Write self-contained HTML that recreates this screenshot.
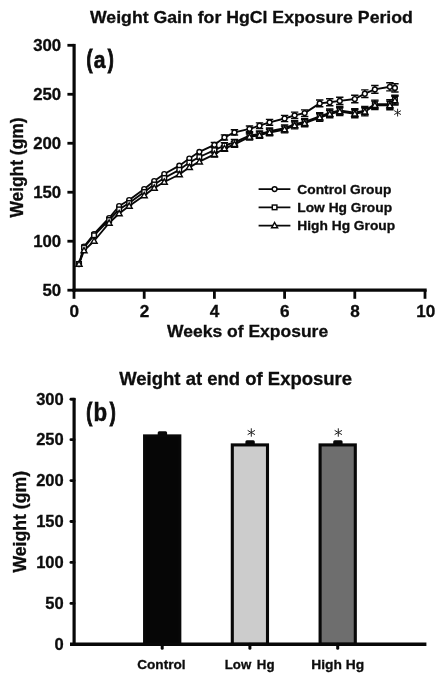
<!DOCTYPE html>
<html><head><meta charset="utf-8"><title>Weight Gain</title>
<style>
html,body{margin:0;padding:0;background:#fff;}
body{width:445px;height:683px;overflow:hidden;font-family:"Liberation Sans",sans-serif;}
svg{display:block;filter:blur(0.35px);}
text{font-family:"Liberation Sans",sans-serif;font-weight:bold;fill:#0d0d0d;stroke:#0d0d0d;stroke-width:0.3;}
.ax{stroke:#080808;stroke-width:3.2;fill:none;stroke-linecap:butt;}
.tk{stroke:#080808;stroke-width:2.8;fill:none;}
.ln{stroke:#080808;stroke-width:1.9;fill:none;stroke-linejoin:round;}
.eb{stroke:#080808;stroke-width:1.4;fill:none;}
.mk{stroke:#080808;stroke-width:1.45;fill:#fff;}
</style></head><body>
<svg width="445" height="683" viewBox="0 0 445 683">
<rect width="445" height="683" fill="#fff"/>

<text transform="translate(90,22.5) scale(1.06,1)" font-size="16.7" text-anchor="start">Weight Gain for HgCl Exposure Period</text>
<text transform="translate(22.5,217.6) rotate(-90) scale(1,1.09)" font-size="17.4" text-anchor="start">Weight (gm)</text>
<text transform="translate(167,337) scale(1.03,1)" font-size="17" text-anchor="start">Weeks of Exposure</text>
<text transform="translate(86.5,67.8) scale(0.78,1.13)" font-size="23" style="stroke-width:1">(</text>
<text transform="translate(93.8,68.1) scale(0.92,1.06)" font-size="23" style="stroke-width:0.6">a</text>
<text transform="translate(107.7,67.8) scale(0.78,1.13)" font-size="23" style="stroke-width:1">)</text>
<path class="ax" d="M74.1,43.9 V291.8"/>
<path class="ax" d="M72.5,290.2 H426.7"/>
<path class="tk" d="M67.4,290.2 H74"/>
<text transform="translate(61.2,295.7) scale(1.05,1)" font-size="16" text-anchor="end">50</text>
<path class="tk" d="M67.4,241.22 H74"/>
<text transform="translate(61.2,246.72) scale(1.05,1)" font-size="16" text-anchor="end">100</text>
<path class="tk" d="M67.4,192.24 H74"/>
<text transform="translate(61.2,197.74) scale(1.05,1)" font-size="16" text-anchor="end">150</text>
<path class="tk" d="M67.4,143.26 H74"/>
<text transform="translate(61.2,148.76) scale(1.05,1)" font-size="16" text-anchor="end">200</text>
<path class="tk" d="M67.4,94.28 H74"/>
<text transform="translate(61.2,99.78) scale(1.05,1)" font-size="16" text-anchor="end">250</text>
<path class="tk" d="M67.4,45.3 H74"/>
<text transform="translate(61.2,50.8) scale(1.05,1)" font-size="16" text-anchor="end">300</text>
<path class="tk" d="M74,290 V298.8"/>
<text transform="translate(74.2,317.2) scale(1.06,1)" font-size="16.2" text-anchor="middle">0</text>
<path class="tk" d="M144.2,290 V298.8"/>
<text transform="translate(144.4,317.2) scale(1.06,1)" font-size="16.2" text-anchor="middle">2</text>
<path class="tk" d="M214.4,290 V298.8"/>
<text transform="translate(214.6,317.2) scale(1.06,1)" font-size="16.2" text-anchor="middle">4</text>
<path class="tk" d="M284.6,290 V298.8"/>
<text transform="translate(284.8,317.2) scale(1.06,1)" font-size="16.2" text-anchor="middle">6</text>
<path class="tk" d="M354.8,290 V298.8"/>
<text transform="translate(355,317.2) scale(1.06,1)" font-size="16.2" text-anchor="middle">8</text>
<path class="tk" d="M425,290 V298.8"/>
<text transform="translate(425.8,317.2) scale(1.06,1)" font-size="16.2" text-anchor="middle">10</text>
<path class="eb" d="M214.4,151.54 V157.06 M210.7,151.54 H218.1 M210.7,157.06 H218.1"/>
<path class="eb" d="M224.43,145.65 V151.35 M220.73,145.65 H228.13 M220.73,151.35 H228.13"/>
<path class="eb" d="M234.46,141.36 V147.24 M230.76,141.36 H238.16 M230.76,147.24 H238.16"/>
<path class="eb" d="M249.5,133.83 V139.97 M245.8,133.83 H253.2 M245.8,139.97 H253.2"/>
<path class="eb" d="M259.53,132.03 V138.36 M255.83,132.03 H263.23 M255.83,138.36 H263.23"/>
<path class="eb" d="M269.56,129.25 V135.75 M265.86,129.25 H273.26 M265.86,135.75 H273.26"/>
<path class="eb" d="M284.6,126.11 V132.89 M280.9,126.11 H288.3 M280.9,132.89 H288.3"/>
<path class="eb" d="M294.63,121.92 V128.88 M290.93,121.92 H298.33 M290.93,128.88 H298.33"/>
<path class="eb" d="M304.66,119.63 V126.77 M300.96,119.63 H308.36 M300.96,126.77 H308.36"/>
<path class="eb" d="M319.7,113.8 V121.2 M316,113.8 H323.4 M316,121.2 H323.4"/>
<path class="eb" d="M329.73,110.2 V117.8 M326.03,110.2 H333.43 M326.03,117.8 H333.43"/>
<path class="eb" d="M339.76,107.71 V115.48 M336.06,107.71 H343.46 M336.06,115.48 H343.46"/>
<path class="eb" d="M354.8,109.78 V117.82 M351.1,109.78 H358.5 M351.1,117.82 H358.5"/>
<path class="eb" d="M364.83,107.69 V115.91 M361.13,107.69 H368.53 M361.13,115.91 H368.53"/>
<path class="eb" d="M374.86,101.1 V109.5 M371.16,101.1 H378.56 M371.16,109.5 H378.56"/>
<path class="eb" d="M389.9,101.07 V109.73 M386.2,101.07 H393.6 M386.2,109.73 H393.6"/>
<path class="eb" d="M394.91,96.22 V104.98 M391.21,96.22 H398.61 M391.21,104.98 H398.61"/>
<path class="eb" d="M214.4,147.44 V152.96 M210.7,147.44 H218.1 M210.7,152.96 H218.1"/>
<path class="eb" d="M224.43,142.65 V148.35 M220.73,142.65 H228.13 M220.73,148.35 H228.13"/>
<path class="eb" d="M234.46,139.36 V145.24 M230.76,139.36 H238.16 M230.76,145.24 H238.16"/>
<path class="eb" d="M249.5,132.62 V138.77 M245.8,132.62 H253.2 M245.8,138.77 H253.2"/>
<path class="eb" d="M259.53,130.84 V137.16 M255.83,130.84 H263.23 M255.83,137.16 H263.23"/>
<path class="eb" d="M269.56,128.05 V134.56 M265.86,128.05 H273.26 M265.86,134.56 H273.26"/>
<path class="eb" d="M284.6,124.91 V131.69 M280.9,124.91 H288.3 M280.9,131.69 H288.3"/>
<path class="eb" d="M294.63,120.72 V127.68 M290.93,120.72 H298.33 M290.93,127.68 H298.33"/>
<path class="eb" d="M304.66,118.43 V125.57 M300.96,118.43 H308.36 M300.96,125.57 H308.36"/>
<path class="eb" d="M319.7,112.59 V120 M316,112.59 H323.4 M316,120 H323.4"/>
<path class="eb" d="M329.73,109 V116.59 M326.03,109 H333.43 M326.03,116.59 H333.43"/>
<path class="eb" d="M339.76,106.52 V114.29 M336.06,106.52 H343.46 M336.06,114.29 H343.46"/>
<path class="eb" d="M354.8,108.58 V116.62 M351.1,108.58 H358.5 M351.1,116.62 H358.5"/>
<path class="eb" d="M364.83,106.49 V114.71 M361.13,106.49 H368.53 M361.13,114.71 H368.53"/>
<path class="eb" d="M374.86,100.1 V108.5 M371.16,100.1 H378.56 M371.16,108.5 H378.56"/>
<path class="eb" d="M389.9,99.67 V108.33 M386.2,99.67 H393.6 M386.2,108.33 H393.6"/>
<path class="eb" d="M394.91,95.22 V103.98 M391.21,95.22 H398.61 M391.21,103.98 H398.61"/>
<path class="eb" d="M214.4,142.34 V147.26 M210.7,142.34 H218.1 M210.7,147.26 H218.1"/>
<path class="eb" d="M224.43,134.85 V139.95 M220.73,134.85 H228.13 M220.73,139.95 H228.13"/>
<path class="eb" d="M234.46,129.76 V135.04 M230.76,129.76 H238.16 M230.76,135.04 H238.16"/>
<path class="eb" d="M249.5,126.03 V131.58 M245.8,126.03 H253.2 M245.8,131.58 H253.2"/>
<path class="eb" d="M259.53,122.84 V128.56 M255.83,122.84 H263.23 M255.83,128.56 H263.23"/>
<path class="eb" d="M269.56,119.34 V125.25 M265.86,119.34 H273.26 M265.86,125.25 H273.26"/>
<path class="eb" d="M284.6,115.41 V121.59 M280.9,115.41 H288.3 M280.9,121.59 H288.3"/>
<path class="eb" d="M294.63,112.12 V118.48 M290.93,112.12 H298.33 M290.93,118.48 H298.33"/>
<path class="eb" d="M304.66,109.83 V116.37 M300.96,109.83 H308.36 M300.96,116.37 H308.36"/>
<path class="eb" d="M319.7,100 V106.81 M316,100 H323.4 M316,106.81 H323.4"/>
<path class="eb" d="M329.73,98.8 V105.8 M326.03,98.8 H333.43 M326.03,105.8 H333.43"/>
<path class="eb" d="M339.76,97.32 V104.48 M336.06,97.32 H343.46 M336.06,104.48 H343.46"/>
<path class="eb" d="M354.8,95.28 V102.72 M351.1,95.28 H358.5 M351.1,102.72 H358.5"/>
<path class="eb" d="M364.83,89.89 V97.51 M361.13,89.89 H368.53 M361.13,97.51 H368.53"/>
<path class="eb" d="M374.86,85.5 V93.3 M371.16,85.5 H378.56 M371.16,93.3 H378.56"/>
<path class="eb" d="M389.9,82.77 V90.83 M386.2,82.77 H393.6 M386.2,90.83 H393.6"/>
<path class="eb" d="M394.91,83.82 V91.98 M391.21,83.82 H398.61 M391.21,91.98 H398.61"/>
<polyline class="ln" points="79.01,264 84.03,246.5 94.06,234 109.1,218 119.13,206 129.16,200 144.2,189 154.23,181 164.26,174 179.3,165.7 189.33,158.5 199.36,151.8 214.4,144.8 224.43,137.4 234.46,132.4 249.5,128.8 259.53,125.7 269.56,122.3 284.6,118.5 294.63,115.3 304.66,113.1 319.7,103.4 329.73,102.3 339.76,100.9 354.8,99 364.83,93.7 374.86,89.4 389.9,86.8 394.91,87.9"/>
<polyline class="ln" points="79.01,264 84.03,247.5 94.06,235.3 109.1,220 119.13,209.4 129.16,203 144.2,192 154.23,184.5 164.26,178 179.3,169.8 189.33,162.6 199.36,157 214.4,150.2 224.43,145.5 234.46,142.3 249.5,135.7 259.53,134 269.56,131.3 284.6,128.3 294.63,124.2 304.66,122 319.7,116.3 329.73,112.8 339.76,110.4 354.8,112.6 364.83,110.6 374.86,104.3 389.9,104 394.91,99.6"/>
<polyline class="ln" points="79.01,264 84.03,250.6 94.06,241 109.1,223 119.13,213.5 129.16,206 144.2,195.5 154.23,188 164.26,182 179.3,174.5 189.33,167.3 199.36,161.7 214.4,154.3 224.43,148.5 234.46,144.3 249.5,136.9 259.53,135.2 269.56,132.5 284.6,129.5 294.63,125.4 304.66,123.2 319.7,117.5 329.73,114 339.76,111.6 354.8,113.8 364.83,111.8 374.86,105.3 389.9,105.4 394.91,100.6"/>
<circle class="mk" cx="79.01" cy="264" r="2.4"/>
<circle class="mk" cx="84.03" cy="246.5" r="2.4"/>
<circle class="mk" cx="94.06" cy="234" r="2.4"/>
<circle class="mk" cx="109.1" cy="218" r="2.4"/>
<circle class="mk" cx="119.13" cy="206" r="2.4"/>
<circle class="mk" cx="129.16" cy="200" r="2.4"/>
<circle class="mk" cx="144.2" cy="189" r="2.4"/>
<circle class="mk" cx="154.23" cy="181" r="2.4"/>
<circle class="mk" cx="164.26" cy="174" r="2.4"/>
<circle class="mk" cx="179.3" cy="165.7" r="2.4"/>
<circle class="mk" cx="189.33" cy="158.5" r="2.4"/>
<circle class="mk" cx="199.36" cy="151.8" r="2.4"/>
<circle class="mk" cx="214.4" cy="144.8" r="2.4"/>
<circle class="mk" cx="224.43" cy="137.4" r="2.4"/>
<circle class="mk" cx="234.46" cy="132.4" r="2.4"/>
<circle class="mk" cx="249.5" cy="128.8" r="2.4"/>
<circle class="mk" cx="259.53" cy="125.7" r="2.4"/>
<circle class="mk" cx="269.56" cy="122.3" r="2.4"/>
<circle class="mk" cx="284.6" cy="118.5" r="2.4"/>
<circle class="mk" cx="294.63" cy="115.3" r="2.4"/>
<circle class="mk" cx="304.66" cy="113.1" r="2.4"/>
<circle class="mk" cx="319.7" cy="103.4" r="2.4"/>
<circle class="mk" cx="329.73" cy="102.3" r="2.4"/>
<circle class="mk" cx="339.76" cy="100.9" r="2.4"/>
<circle class="mk" cx="354.8" cy="99" r="2.4"/>
<circle class="mk" cx="364.83" cy="93.7" r="2.4"/>
<circle class="mk" cx="374.86" cy="89.4" r="2.4"/>
<circle class="mk" cx="389.9" cy="86.8" r="2.4"/>
<circle class="mk" cx="394.91" cy="87.9" r="2.4"/>
<rect class="mk" x="76.71" y="261.7" width="4.6" height="4.6"/>
<rect class="mk" x="81.73" y="245.2" width="4.6" height="4.6"/>
<rect class="mk" x="91.76" y="233" width="4.6" height="4.6"/>
<rect class="mk" x="106.8" y="217.7" width="4.6" height="4.6"/>
<rect class="mk" x="116.83" y="207.1" width="4.6" height="4.6"/>
<rect class="mk" x="126.86" y="200.7" width="4.6" height="4.6"/>
<rect class="mk" x="141.9" y="189.7" width="4.6" height="4.6"/>
<rect class="mk" x="151.93" y="182.2" width="4.6" height="4.6"/>
<rect class="mk" x="161.96" y="175.7" width="4.6" height="4.6"/>
<rect class="mk" x="177" y="167.5" width="4.6" height="4.6"/>
<rect class="mk" x="187.03" y="160.3" width="4.6" height="4.6"/>
<rect class="mk" x="197.06" y="154.7" width="4.6" height="4.6"/>
<rect class="mk" x="212.1" y="147.9" width="4.6" height="4.6"/>
<rect class="mk" x="222.13" y="143.2" width="4.6" height="4.6"/>
<rect class="mk" x="232.16" y="140" width="4.6" height="4.6"/>
<rect class="mk" x="247.2" y="133.4" width="4.6" height="4.6"/>
<rect class="mk" x="257.23" y="131.7" width="4.6" height="4.6"/>
<rect class="mk" x="267.26" y="129" width="4.6" height="4.6"/>
<rect class="mk" x="282.3" y="126" width="4.6" height="4.6"/>
<rect class="mk" x="292.33" y="121.9" width="4.6" height="4.6"/>
<rect class="mk" x="302.36" y="119.7" width="4.6" height="4.6"/>
<rect class="mk" x="317.4" y="114" width="4.6" height="4.6"/>
<rect class="mk" x="327.43" y="110.5" width="4.6" height="4.6"/>
<rect class="mk" x="337.46" y="108.1" width="4.6" height="4.6"/>
<rect class="mk" x="352.5" y="110.3" width="4.6" height="4.6"/>
<rect class="mk" x="362.53" y="108.3" width="4.6" height="4.6"/>
<rect class="mk" x="372.56" y="102" width="4.6" height="4.6"/>
<rect class="mk" x="387.6" y="101.7" width="4.6" height="4.6"/>
<rect class="mk" x="392.61" y="97.3" width="4.6" height="4.6"/>
<path class="mk" d="M79.01,260.9 L82.01,266.2 L76.01,266.2 Z"/>
<path class="mk" d="M84.03,247.5 L87.03,252.8 L81.03,252.8 Z"/>
<path class="mk" d="M94.06,237.9 L97.06,243.2 L91.06,243.2 Z"/>
<path class="mk" d="M109.1,219.9 L112.1,225.2 L106.1,225.2 Z"/>
<path class="mk" d="M119.13,210.4 L122.13,215.7 L116.13,215.7 Z"/>
<path class="mk" d="M129.16,202.9 L132.16,208.2 L126.16,208.2 Z"/>
<path class="mk" d="M144.2,192.4 L147.2,197.7 L141.2,197.7 Z"/>
<path class="mk" d="M154.23,184.9 L157.23,190.2 L151.23,190.2 Z"/>
<path class="mk" d="M164.26,178.9 L167.26,184.2 L161.26,184.2 Z"/>
<path class="mk" d="M179.3,171.4 L182.3,176.7 L176.3,176.7 Z"/>
<path class="mk" d="M189.33,164.2 L192.33,169.5 L186.33,169.5 Z"/>
<path class="mk" d="M199.36,158.6 L202.36,163.9 L196.36,163.9 Z"/>
<path class="mk" d="M214.4,151.2 L217.4,156.5 L211.4,156.5 Z"/>
<path class="mk" d="M224.43,145.4 L227.43,150.7 L221.43,150.7 Z"/>
<path class="mk" d="M234.46,141.2 L237.46,146.5 L231.46,146.5 Z"/>
<path class="mk" d="M249.5,133.8 L252.5,139.1 L246.5,139.1 Z"/>
<path class="mk" d="M259.53,132.1 L262.53,137.4 L256.53,137.4 Z"/>
<path class="mk" d="M269.56,129.4 L272.56,134.7 L266.56,134.7 Z"/>
<path class="mk" d="M284.6,126.4 L287.6,131.7 L281.6,131.7 Z"/>
<path class="mk" d="M294.63,122.3 L297.63,127.6 L291.63,127.6 Z"/>
<path class="mk" d="M304.66,120.1 L307.66,125.4 L301.66,125.4 Z"/>
<path class="mk" d="M319.7,114.4 L322.7,119.7 L316.7,119.7 Z"/>
<path class="mk" d="M329.73,110.9 L332.73,116.2 L326.73,116.2 Z"/>
<path class="mk" d="M339.76,108.5 L342.76,113.8 L336.76,113.8 Z"/>
<path class="mk" d="M354.8,110.7 L357.8,116 L351.8,116 Z"/>
<path class="mk" d="M364.83,108.7 L367.83,114 L361.83,114 Z"/>
<path class="mk" d="M374.86,102.2 L377.86,107.5 L371.86,107.5 Z"/>
<path class="mk" d="M389.9,102.3 L392.9,107.6 L386.9,107.6 Z"/>
<path class="mk" d="M394.91,97.5 L397.91,102.8 L391.91,102.8 Z"/>
<path d="M397.6,108.7 L397.6,116.5 M394.22,110.65 L400.98,114.55 M394.22,114.55 L400.98,110.65" stroke="#222" stroke-width="1.0" fill="none"/>
<path class="ln" d="M258.6,189.1 H290.4"/>
<circle class="mk" cx="274.6" cy="189.1" r="2.4"/>
<text transform="translate(297.3,193.7) scale(1.06,1)" font-size="13" text-anchor="start">Control Group</text>
<path class="ln" d="M258.6,207.35 H290.4"/>
<rect class="mk" x="272.3" y="205.05" width="4.6" height="4.6"/>
<text transform="translate(297.3,211.95) scale(1.06,1)" font-size="13" text-anchor="start">Low Hg Group</text>
<path class="ln" d="M258.6,225.6 H290.4"/>
<path class="mk" d="M274.6,222.5 L277.6,227.8 L271.6,227.8 Z"/>
<text transform="translate(297.3,230.2) scale(1.06,1)" font-size="13" text-anchor="start">High Hg Group</text>
<text transform="translate(119.2,385.2) scale(1.04,1)" font-size="17.8" text-anchor="start">Weight at end of Exposure</text>
<text transform="translate(25.7,572.6) rotate(-90) scale(1,1.09)" font-size="17.67" text-anchor="start">Weight (gm)</text>
<text transform="translate(86.3,421.1) scale(0.78,1.13)" font-size="23" style="stroke-width:1">(</text>
<text transform="translate(93.5,421.3) scale(0.97,1.1)" font-size="23" style="stroke-width:0.5">b</text>
<text transform="translate(109.8,421.1) scale(0.78,1.13)" font-size="23" style="stroke-width:1">)</text>
<rect x="157.7" y="431.36" width="9.4" height="5" rx="1.5" fill="#080808"/>
<rect x="144.6" y="435.91" width="35.2" height="208.39" fill="#060606" stroke="#080808" stroke-width="3.1"/>
<rect x="245.4" y="440.36" width="9.4" height="5" rx="1.5" fill="#080808"/>
<rect x="232.3" y="444.91" width="35.2" height="199.39" fill="#cccccc" stroke="#080808" stroke-width="3.1"/>
<rect x="333.2" y="440.36" width="9.4" height="5" rx="1.5" fill="#080808"/>
<rect x="320.1" y="444.91" width="35.2" height="199.39" fill="#6e6e6e" stroke="#080808" stroke-width="3.1"/>
<path class="ax" d="M74.1,397.9 V645.9"/>
<path class="ax" d="M70,644.2 H426.4" style="stroke-width:3.5"/>
<path class="tk" d="M70.9,603.38 H74" stroke-linecap="round" style="stroke-width:2.8"/>
<path class="tk" d="M70.9,562.45 H74" stroke-linecap="round" style="stroke-width:2.8"/>
<path class="tk" d="M70.9,521.52 H74" stroke-linecap="round" style="stroke-width:2.8"/>
<path class="tk" d="M70.9,480.6 H74" stroke-linecap="round" style="stroke-width:2.8"/>
<path class="tk" d="M70.9,439.67 H74" stroke-linecap="round" style="stroke-width:2.8"/>
<path class="tk" d="M70.9,399.25 H74" stroke-linecap="round" style="stroke-width:2.8"/>
<text transform="translate(63.7,650.1) scale(1.02,1)" font-size="16.2" text-anchor="end">0</text>
<text transform="translate(63.7,609.17) scale(1.02,1)" font-size="16.2" text-anchor="end">50</text>
<text transform="translate(63.7,568.25) scale(1.02,1)" font-size="16.2" text-anchor="end">100</text>
<text transform="translate(63.7,527.32) scale(1.02,1)" font-size="16.2" text-anchor="end">150</text>
<text transform="translate(63.7,486.4) scale(1.02,1)" font-size="16.2" text-anchor="end">200</text>
<text transform="translate(63.7,445.47) scale(1.02,1)" font-size="16.2" text-anchor="end">250</text>
<text transform="translate(63.7,404.55) scale(1.02,1)" font-size="16.2" text-anchor="end">300</text>
<path class="tk" d="M162.2,644.3 V648.2" stroke-linecap="round" style="stroke-width:3"/>
<text transform="translate(161.4,669.4) scale(1.02,1)" font-size="13.4" text-anchor="middle">Control</text>
<path class="tk" d="M249.9,644.3 V648.2" stroke-linecap="round" style="stroke-width:3"/>
<text transform="translate(249.6,669.4) scale(0.99,1)" font-size="13.4" text-anchor="middle" word-spacing="2">Low Hg</text>
<path class="tk" d="M337.7,644.3 V648.2" stroke-linecap="round" style="stroke-width:3"/>
<text transform="translate(337.7,669.4) scale(1.03,1)" font-size="13.4" text-anchor="middle">High Hg</text>
<path d="M251.3,428.3 L251.3,436.7 M247.66,430.4 L254.94,434.6 M247.66,434.6 L254.94,430.4" stroke="#222" stroke-width="1.0" fill="none"/>
<path d="M338.3,428.3 L338.3,436.7 M334.66,430.4 L341.94,434.6 M334.66,434.6 L341.94,430.4" stroke="#222" stroke-width="1.0" fill="none"/>
</svg></body></html>
